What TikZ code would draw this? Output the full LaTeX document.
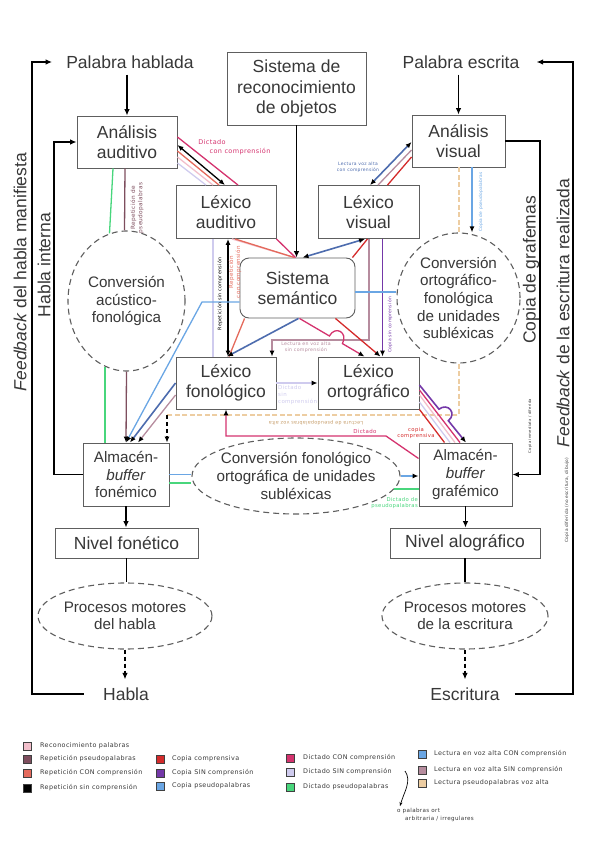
\documentclass[tikz,border=0pt]{standalone}
\usepackage{fontspec}
\setmainfont{Liberation Sans}
\newfontfamily\handfont[LetterSpace=6]{DejaVu Sans}
\usetikzlibrary{arrows.meta,positioning,shapes.geometric,calc}
\definecolor{ink}{HTML}{383838}
\definecolor{boxgray}{HTML}{5E5E5E}
\definecolor{cReco}{HTML}{F2BFCB}
\definecolor{cRepPs}{HTML}{7E4E5E}
\definecolor{cRepCon}{HTML}{E46A5C}
\definecolor{cCopCom}{HTML}{D42B2B}
\definecolor{cCopSin}{HTML}{7438A8}
\definecolor{cCopPs}{HTML}{6AA6E4}
\definecolor{cDicCon}{HTML}{D4336E}
\definecolor{cDicSin}{HTML}{CFCBEE}
\definecolor{cDicPs}{HTML}{48D67C}
\definecolor{cLecCon}{HTML}{4D6CAE}
\definecolor{cLecSin}{HTML}{B68C9E}
\definecolor{cLecPs}{HTML}{EDCDA2}
\definecolor{cLecPsTxt}{HTML}{C49A66}
\newcommand\boxfont{\fontsize{17.5}{20.5}\selectfont}
\newcommand\ellfont{\fontsize{15.2}{17.6}\selectfont}
\newcommand\notesize[1]{\handfont\fontsize{#1}{#1}\linespread{1.25}\selectfont}
\tikzset{
  box/.style={draw=boxgray, line width=0.9pt, fill=white, align=center, text=ink, font=\boxfont, inner sep=0pt},
  smallbox/.style={box, font=\ellfont},
  convell/.style={ellipse, draw=boxgray, line width=1.1pt, dash pattern=on 6pt off 4pt, fill=white, align=center, text=ink, font=\ellfont, inner sep=0pt},
  lbl/.style={text=ink, font=\boxfont, inner sep=0pt},
  sidelbl/.style={lbl, rotate=90},
  arr/.style={-{Latex[length=6.5pt,width=5.5pt]}, line width=1.2pt, draw=black},
  feed/.style={line width=1.4pt, draw=black},
  route/.style={line width=1.3pt},
  endtip/.style={-{Latex[length=6pt,width=5pt,color=black]}},
  bothtips/.style={{Latex[length=6pt,width=5pt,color=black]}-{Latex[length=6pt,width=5pt,color=black]}},
  reco/.style={route, draw=cReco},
  reppseudo/.style={route, draw=cRepPs},
  repcon/.style={route, draw=cRepCon},
  repsin/.style={route, draw=black},
  copcom/.style={route, draw=cCopCom},
  copsin/.style={route, draw=cCopSin, line width=1.6pt},
  coppseudo/.style={route, draw=cCopPs},
  diccon/.style={route, draw=cDicCon},
  dicsin/.style={route, draw=cDicSin},
  dicpseudo/.style={route, draw=cDicPs},
  leccon/.style={route, draw=cLecCon, line width=1.6pt},
  lecsin/.style={route, draw=cLecSin},
  lecpseudo/.style={route, draw=cLecPs, line width=2pt, dash pattern=on 5pt off 2.5pt},
  note/.style={font=\notesize{#1}, inner sep=0pt, align=center},
  note/.default=4.8,
  swatch/.style={draw=black!75, line width=0.5pt, minimum size=7.5pt, inner sep=0pt},
  legtext/.style={font=\notesize{6.4}, text=ink, inner sep=0pt}
}
\begin{document}
\begin{tikzpicture}[x=1pt,y=-1pt]
\useasboundingbox (0,0) rectangle (599,848);
% cajas y elipses
\node[lbl, inner xsep=14pt, inner ysep=6pt] (phabl) at (130,62) {Palabra hablada};
\node[lbl, inner xsep=17pt, inner ysep=6pt] (pescr) at (461,62) {Palabra escrita};
\node[box, minimum width=139pt, minimum height=73pt] (objetos) at (296.5,88.5) {Sistema de\\reconocimiento\\de objetos};
\node[box, minimum width=100pt, minimum height=52pt] (aaud) at (127,142) {Análisis\\auditivo};
\node[box, minimum width=93pt, minimum height=52pt] (avis) at (458.5,141) {Análisis\\visual};
\node[box, minimum width=100pt, minimum height=53pt] (laud) at (226,212) {Léxico\\auditivo};
\node[box, minimum width=101pt, minimum height=53pt] (lvis) at (368.5,212) {Léxico\\visual};
\node[box, rounded corners=9pt, minimum width=115pt, minimum height=60pt] (sem) at (297.5,288) {Sistema\\semántico};
\node[box, minimum width=100pt, minimum height=52pt] (lfon) at (226,383) {Léxico\\fonológico};
\node[box, minimum width=101pt, minimum height=52pt] (lort) at (368.5,383) {Léxico\\ortográfico};
\node[smallbox, minimum width=86pt, minimum height=63pt] (afon) at (126,474.5) {Almacén-\\\textit{buffer}\\fonémico};
\node[smallbox, minimum width=93pt, minimum height=63pt] (agraf) at (465.5,474.5) {Almacén-\\\textit{buffer}\\grafémico};
\node[box, minimum width=143pt, minimum height=30pt] (nfon) at (126.5,543) {Nivel fonético};
\node[box, minimum width=150pt, minimum height=30pt] (nalo) at (465,543) {Nivel alográfico};
\node[convell, minimum width=117pt, minimum height=140pt] (acu) at (126.5,301) {Conversión\\acústico-\\fonológica};
\node[convell, minimum width=123pt, minimum height=130pt] (ortf) at (458.5,298) {Conversión\\ortográfico-\\fonológica\\de unidades\\subléxicas};
\node[convell, inner xsep=-7pt, minimum width=208pt, minimum height=76pt] (fonort) at (296,476) {Conversión fonológico\\ortográfica de unidades\\subléxicas};
\node[convell, inner xsep=-3pt, minimum width=174pt, minimum height=66pt] (pmh) at (125,616) {Procesos motores\\del habla};
\node[convell, inner xsep=-5pt, minimum width=166pt, minimum height=66pt] (pme) at (465,616) {Procesos motores\\de la escritura};
\node[lbl, inner xsep=19pt, inner ysep=8pt] (habla) at (126,694) {Habla};
\node[lbl, inner xsep=15pt, inner ysep=8pt] (escri) at (465,694) {Escritura};
\node[sidelbl] (fbhabla) at (20,272) {\textit{Feedback} del habla manifiesta};
\node[sidelbl] (hint) at (44,265) {Habla interna};
\node[sidelbl] (cgraf) at (531,270) {Copia de grafemas};
\node[sidelbl] (fbescr) at (563,313) {\textit{Feedback} de la escritura realizada};

% rutas de color
\draw[diccon] ([yshift=5pt]aaud.east) -- ([xshift=12pt]laud.north);
\draw[repsin, bothtips] ([yshift=-3pt]aaud.east) -- ([xshift=-1pt]laud.north);
\draw[repcon] ([yshift=-9pt]aaud.east) -- ([xshift=-7pt]laud.north);
\draw[reco] ([yshift=-15pt]aaud.east) -- ([xshift=-13pt]laud.north);
\draw[dicsin] ([yshift=-21pt]aaud.east) -- ([xshift=-20pt]laud.north);
\draw[dicpseudo] ([xshift=-14pt]aaud.south) -- ([xshift=-17pt,yshift=-3pt]acu.north);
\draw[reppseudo] ([xshift=-2pt]aaud.south) -- ([xshift=-2pt]acu.north);
\draw[reppseudo, endtip] (acu.south) -- (afon.north);
\draw[dicpseudo] ([xshift=-21.5pt,yshift=5pt]acu.south) -- ([xshift=-21pt]afon.north);
\draw[reco] ([xshift=6pt]laud.south) -- ([xshift=-3pt]sem.north);
\draw[repcon] ([xshift=9pt]laud.south) -- ([xshift=-3pt]sem.north);
\draw[diccon] (laud.south east) -- ([xshift=-2pt]sem.north);
\draw[repsin, bothtips] ([xshift=2pt]laud.south) -- ([xshift=2pt]lfon.north);
\draw[dicsin] ([xshift=-13pt]laud.south) -- ([xshift=-13pt]lfon.north);
\draw[repcon] ([xshift=5pt]sem.south west) -- ([xshift=3pt]lfon.north);
\draw[leccon, endtip] ([xshift=1pt]sem.south) -- ([xshift=1pt]lfon.north);
\draw[leccon, bothtips] ([yshift=-1pt]avis.west) -- ([xshift=1.5pt]lvis.north);
\draw[lecsin] ([yshift=-9pt]avis.west) -- ([xshift=9.5pt]lvis.north);
\draw[copcom] ([yshift=-16pt]avis.west) -- ([xshift=19pt]lvis.north);
\draw[leccon, bothtips] ([xshift=-3.5pt]lvis.south) -- ([xshift=5pt]sem.north);
\draw[copcom] ([xshift=-1pt]lvis.south) -- ([xshift=-3pt]sem.north east);
\draw[copsin, endtip] ([xshift=14pt]lvis.south) -- ([xshift=14pt]lort.north);
\coordinate (lecSinL) at (272,340);
\draw[lecsin, endtip] ([xshift=0.5pt]lvis.south) |- (lecSinL) -- (lecSinL |- lfon.north);
\draw[copcom, endtip] ([xshift=-20pt]sem.south east) -- ([xshift=12pt]lort.north);
\coordinate (dA) at ([xshift=2pt]sem.south);
\coordinate (dB) at ([xshift=-4pt]lort.north);
\draw[diccon, endtip] (dA) -- ($(dA)!0.46!(dB)$) .. controls +(6,-11) and +(6,-11) .. ($(dA)!0.66!(dB)$) -- (dB);
\coordinate (cpSemE) at ([yshift=-4pt]sem.east);
\draw[coppseudo] (cpSemE) -- (cpSemE -| ortf.west);
\coordinate (cpBend) at (202,302);
\draw[coppseudo, endtip] ([yshift=-14pt]sem.west) -- (cpBend) -- (afon.north);
\draw[lecpseudo] (avis.south) -- (ortf.north);
\coordinate (cpTop) at ([xshift=13.5pt]avis.south);
\draw[coppseudo, endtip] (cpTop) -- (cpTop |- ortf.north);
\coordinate (dpFon) at ([yshift=-8.5pt]afon.east);
\draw[dicpseudo] (dpFon) -- (dpFon -| fonort.west);
\draw[coppseudo] (afon.east) -- (afon.east -| fonort.west);
\draw[coppseudo, endtip] (fonort.east) -- (fonort.east -| agraf.west);
\draw[dicpseudo] ([xshift=-7pt,yshift=-13pt]fonort.east) -- ([yshift=-14.5pt]agraf.west);
\draw[dicsin, endtip] (lfon.east) -- (lort.west);
\draw[leccon, endtip] (lfon.west) -- ([xshift=4pt]afon.north);
\draw[lecsin, endtip] ([yshift=-12pt]lfon.west) -- ([xshift=12pt]afon.north);
\coordinate (lpR) at (458.5,415);
\coordinate (lpL) at (167,415);
\draw[lecpseudo] (ortf.south) -- (lpR) -- (lpL);
\draw[line width=1.3pt, dash pattern=on 4pt off 3pt, endtip] (lpL) -- (lpL |- afon.north);
\draw[diccon] ([yshift=-7pt]lort.east) -- ([xshift=-5.5pt]agraf.north);
\draw[reco] ([yshift=-12pt]lort.east) -- ([xshift=-10.5pt]agraf.north);
\draw[dicsin] ([yshift=-19pt]lort.east) -- ([xshift=-15.5pt]agraf.north);
\draw[copcom] (lort.south east) -- ([xshift=-21pt]agraf.north);
\coordinate (pA) at ([yshift=-2pt]lort.east);
\coordinate (pB) at ([xshift=0.5pt]agraf.north);
\draw[copsin, endtip] (pA) -- ($(pA)!0.42!(pB)$) .. controls +(9,-7) and +(9,-7) .. ($(pA)!0.62!(pB)$) -- (pB);
\coordinate (dcBend) at (386,436);
\draw[diccon, endtip] ([yshift=16pt]agraf.west) -- (dcBend) -| (lfon.south);

% flechas negras y feedback
\draw[arr] (aaud.north |- phabl.south) -- (aaud.north);
\draw[arr] (avis.north |- pescr.south) -- (avis.north);
\draw[arr] (objetos.south) -- (objetos.south |- sem.north);
\draw[arr] (afon.south) -- (afon.south |- nfon.north);
\draw[arr] (agraf.south) -- (agraf.south |- nalo.north);
\draw[feed] (nfon.south) -- (nfon.south |- pmh.north);
\draw[feed] (nalo.south) -- (nalo.south |- pme.north);
\draw[arr, dash pattern=on 4pt off 3pt] (pmh.south) -- (pmh.south |- habla.north);
\draw[arr, dash pattern=on 4pt off 3pt] (pme.south) -- (pme.south |- escri.north);
\coordinate (fbL) at (32,62);
\coordinate (fbR) at (573,62);
\coordinate (hiTop) at (54,142);
\coordinate (cgTop) at (540,141);
\draw[feed, arr] (habla.west) -| (fbL) -- (phabl.west);
\draw[feed, arr] (escri.east) -| (fbR) -- (pescr.east);
\draw[feed, arr] (afon.west) -| (hiTop) -- (aaud.west);
\draw[feed, arr] (avis.east) -- (cgTop) |- (agraf.east);

% notas manuscritas
\node[note=6.5, text=cDicCon] (nDicA) at (212,142) {Dictado};
\node[note=6.5, text=cDicCon] (nDicB) at (240,152) {con comprensión};
\node[note=5.8, text=cRepPs, rotate=90] (nRepPs) at (137,208) {Repetición de\\pseudopalabras};
\node[note=4.8, text=black, rotate=90] (nRepSin) at (220,294) {Repetición sin comprensión};
\node[note=5.6, text=cRepCon, rotate=90] (nRepCon) at (235,272) {Repetición\\con comprensión};
\node[note=4.5, text=cLecCon] (nLecCon) at (358,167) {Lectura voz alta\\con comprensión};
\node[note=4.3, text=cCopPs, rotate=90] (nCopPs) at (481,202) {Copia de pseudopalabras};
\node[note=4.5, text=cCopSin, rotate=90] (nCopSin) at (390,325) {Copia sin comprensión};
\node[note=4.7, text=cLecSin] (nLecSin) at (306,347) {Lectura en voz alta\\sin comprensión};
\node[note=5.5, text=cDicSin, align=left, anchor=north west] (nDicSin) at (278,385) {Dictado\\sin\\comprensión};
\node[note=4.8, text=cLecPsTxt, rotate=180] (nLecPs) at (316,423) {Lectura de pseudopalabras voz alta};
\node[note=5.5, text=cDicCon] (nDicC) at (365,431) {Dictado};
\node[note=5.3, text=cCopCom] (nCopCom) at (416,433) {copia\\comprensiva};
\node[note=5.3, text=cDicPs, align=right, anchor=east] (nDicPs) at (418,503) {Dictado de\\pseudopalabras};
\node[note=3.8, text=ink, rotate=90] (nCopInm) at (530,426) {Copia inmediata / diferida};
\node[note=4.3, text=ink, rotate=90] (nCopDif) at (567,500) {Copia diferida (no escritura, dibujo)};

% leyenda
\node[swatch, fill=cReco] (swReco) at (27,746) {};
\node[legtext, right=9pt of swReco] (lgReco) {Reconocimiento palabras};
\node[swatch, fill=cRepPs] (swRepPs) at (27,759) {};
\node[legtext, right=9pt of swRepPs] (lgRepPs) {Repetición pseudopalabras};
\node[swatch, fill=cRepCon] (swRepCon) at (27,773) {};
\node[legtext, right=9pt of swRepCon] (lgRepCon) {Repetición CON comprensión};
\node[swatch, fill=black] (swRepSin) at (27,788) {};
\node[legtext, right=9pt of swRepSin] (lgRepSin) {Repetición sin comprensión};
\node[swatch, fill=cCopCom] (swCopCom) at (160,759) {};
\node[legtext, right=8pt of swCopCom] (lgCopCom) {Copia comprensiva};
\node[swatch, fill=cCopSin] (swCopSin) at (160,773) {};
\node[legtext, right=8pt of swCopSin] (lgCopSin) {Copia SIN comprensión};
\node[swatch, fill=cCopPs] (swCopPs) at (160,786) {};
\node[legtext, right=8pt of swCopPs] (lgCopPs) {Copia pseudopalabras};
\node[swatch, fill=cDicCon] (swDicCon) at (290,758) {};
\node[legtext, right=9pt of swDicCon] (lgDicCon) {Dictado CON comprensión};
\node[swatch, fill=cDicSin] (swDicSin) at (290,772) {};
\node[legtext, right=9pt of swDicSin] (lgDicSin) {Dictado SIN comprensión};
\node[swatch, fill=cDicPs] (swDicPs) at (290,787) {};
\node[legtext, right=9pt of swDicPs] (lgDicPs) {Dictado pseudopalabras};
\node[swatch, fill=cCopPs] (swLecCon) at (422,754) {};
\node[legtext, right=8pt of swLecCon] (lgLecCon) {Lectura en voz alta CON comprensión};
\node[swatch, fill=cLecSin] (swLecSin) at (422,770) {};
\node[legtext, right=8pt of swLecSin] (lgLecSin) {Lectura en voz alta SIN comprensión};
\node[swatch, fill=cLecPs] (swLecPs) at (422,783) {};
\node[legtext, right=8pt of swLecPs] (lgLecPs) {Lectura pseudopalabras voz alta};
\node[legtext, anchor=west, font=\notesize{5.6}] (ortnoteA) at (397,811) {o palabras ort};
\node[legtext, anchor=west, font=\notesize{5.6}] (ortnoteB) at (405,819) {arbitraria / irregulares};
\coordinate (braceTop) at (405,771);
\draw[line width=0.7pt, -{Stealth[length=4pt,width=3pt]}] (braceTop) .. controls (412,781) and (404,792) .. ([xshift=3pt,yshift=2pt]ortnoteA.north west);
\end{tikzpicture}
\end{document}
